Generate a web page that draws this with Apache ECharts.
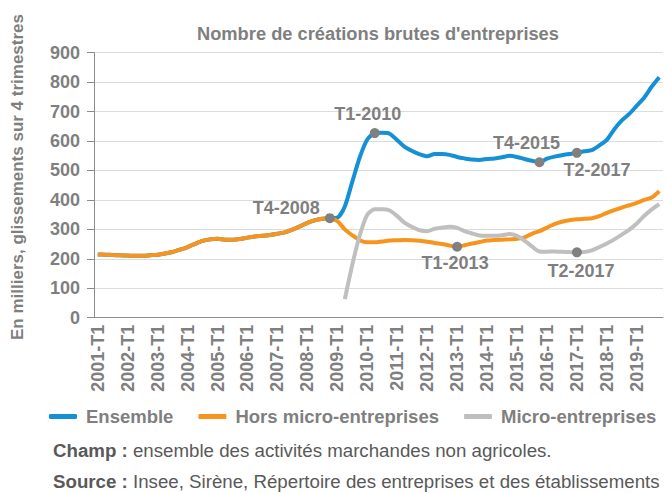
<!DOCTYPE html>
<html><head><meta charset="utf-8">
<script src="https://cdn.jsdelivr.net/npm/echarts@6/dist/echarts.min.js"></script>
<style>html,body{margin:0;padding:0;background:#fff}#c{width:665px;height:493px}</style>
</head><body><div id="c"></div>
<script>
const years = [2001,2002,2003,2004,2005,2006,2007,2008,2009,2010,2011,2012,2013,2014,2015,2016,2017,2018,2019];
const quarters = ['T1','T2','T3','T4'];
const categories = [];
years.forEach(y => quarters.forEach(q => categories.push(y + '-' + q)));

const seriesNames = ['Ensemble', 'Hors micro-entreprises', 'Micro-entreprises'];

const horsMicro = [
  215,214,213,212, 211,210,210,212, 214,218,223,231, 240,251,261,266,
  268,265,265,267, 272,276,278,281, 285,290,299,310, 322,331,336,338,
  328,300,280,263, 256,256,259,262, 263,264,263,261, 258,254,250,245,
  241,246,252,257, 262,264,265,266, 268,273,285,294, 306,318,326,331,
  334,336,338,345, 356,365,374,382, 390,400,408,430
];
const ensemble = [
  215,214,213,212, 211,210,210,212, 214,218,223,231, 240,251,261,266,
  268,265,265,267, 272,276,278,281, 285,290,299,310, 322,331,336,338,
  340,378,462,545, 605,627,628,625, 603,580,566,555, 548,556,556,553,
  546,541,537,536, 539,541,545,550, 546,539,533,528, 540,547,552,556,
  560,565,569,585, 604,640,670,692, 720,748,785,817
];
const micro = [
  null,null,null,null, null,null,null,null, null,null,null,null, null,null,null,null,
  null,null,null,null, null,null,null,null, null,null,null,null, null,null,null,null,
  null,63,180,280, 350,368,368,364, 345,322,308,297, 294,302,306,309,
  305,294,286,279, 278,278,280,284, 278,262,242,225, 224,225,224,223,
  222,223,229,240, 252,266,282,299, 320,346,368,386
];

const annotCats   = ['2008-T4','2010-T2','2015-T4','2017-T1','2013-T1','2017-T1'];
const annotLabels = ['T4-2008','T1-2010','T4-2015','T2-2017','T1-2013','T2-2017'];
const annotSeries = [1, 0, 0, 0, 1, 2];
const annotPlace = [
  {position:'left', offset:[0,-10]},
  {position:'top', offset:[-7,0]},
  {position:'top', offset:[-13,0]},
  {position:'bottom', offset:[20,-2]},
  {position:'bottom', offset:[-2,-3]},
  {position:'bottom', offset:[4,0]}
];

const dataSets = [ensemble, horsMicro, micro];
const colors = ['#1590d5', '#f7941d', '#bfbfbf'];
const GRAY = '#7f7f7f';
const DARK = '#595959';
const FONT = '"Liberation Sans", Arial, sans-serif';

function marks(si) {
  const out = [];
  annotSeries.forEach((s, k) => {
    if (s !== si) return;
    const idx = categories.indexOf(annotCats[k]);
    out.push({
      coord: [annotCats[k], dataSets[si][idx]],
      symbol: 'circle', symbolSize: 10,
      itemStyle: {color: '#808080'},
      label: Object.assign({show: true, formatter: annotLabels[k], color: GRAY,
        fontSize: 18, fontWeight: 'bold', fontFamily: FONT, distance: 5}, annotPlace[k])
    });
  });
  return {data: out, animation: false};
}

const footStyle = {fontSize: 18.7, lineHeight: 19, fontWeight: 'normal', color: DARK, fontFamily: FONT,
  rich: {b: {fontSize: 18.7, lineHeight: 19, fontWeight: 'bold', color: DARK, fontFamily: FONT}}};

const chart = echarts.init(document.getElementById('c'), null, {renderer: 'svg'});
chart.setOption({
  animation: false,
  backgroundColor: '#fff',
  title: [
    {text: "Nombre de créations brutes d'entreprises", left: 192, top: 19,
     textStyle: {fontSize: 18.3, fontWeight: 'bold', color: GRAY, fontFamily: FONT}},
    {text: '{b|Champ :} ensemble des activités marchandes non agricoles.', left: 53, top: 441, padding: 0,
     textStyle: footStyle},
    {text: '{b|Source :} Insee, Sirène, Répertoire des entreprises et des établissements', left: 53, top: 472, padding: 0,
     textStyle: footStyle}
  ],
  graphic: [
    {type: 'text', x: 17, y: 177, rotation: Math.PI / 2,
     style: {text: 'En milliers, glissements sur 4 trimestres', fill: GRAY,
       font: 'bold 17px ' + FONT, textAlign: 'center', textVerticalAlign: 'middle',
       align: 'center', verticalAlign: 'middle'}}
  ],
  legend: {
    data: seriesNames, left: 49, top: 407, width: 616, padding: 0,
    itemWidth: 28, itemHeight: 5, itemGap: 25,
    icon: 'roundRect',
    textStyle: {fontSize: 18.5, fontWeight: 'bold', color: GRAY, fontFamily: FONT, padding: [0,0,0,4]}
  },
  grid: {left: 94, right: 2, top: 52.7, bottom: 175.3, containLabel: false},
  xAxis: {
    type: 'category', data: categories, boundaryGap: true,
    axisLine: {lineStyle: {color: '#8c8c8c', width: 1}},
    axisTick: {show: false},
    axisLabel: {interval: 3, rotate: 90, margin: 7, color: GRAY, fontSize: 18,
      fontWeight: 'bold', fontFamily: FONT}
  },
  yAxis: {
    type: 'value', min: 0, max: 900, interval: 100,
    axisLine: {show: true, lineStyle: {color: '#8c8c8c'}},
    axisTick: {show: true, length: 7, lineStyle: {color: '#8c8c8c'}},
    splitLine: {lineStyle: {color: '#dcdcdc', width: 1}},
    axisLabel: {margin: 14, color: GRAY, fontSize: 18, fontWeight: 'bold', fontFamily: FONT}
  },
  series: seriesNames.map((n, i) => ({
    name: n, type: 'line', data: dataSets[i], color: colors[i],
    showSymbol: false, smooth: 0.25, connectNulls: false,
    lineStyle: {width: 4, color: colors[i]},
    z: 2 + i,
    markPoint: marks(i)
  }))
});
</script>
</body></html>
